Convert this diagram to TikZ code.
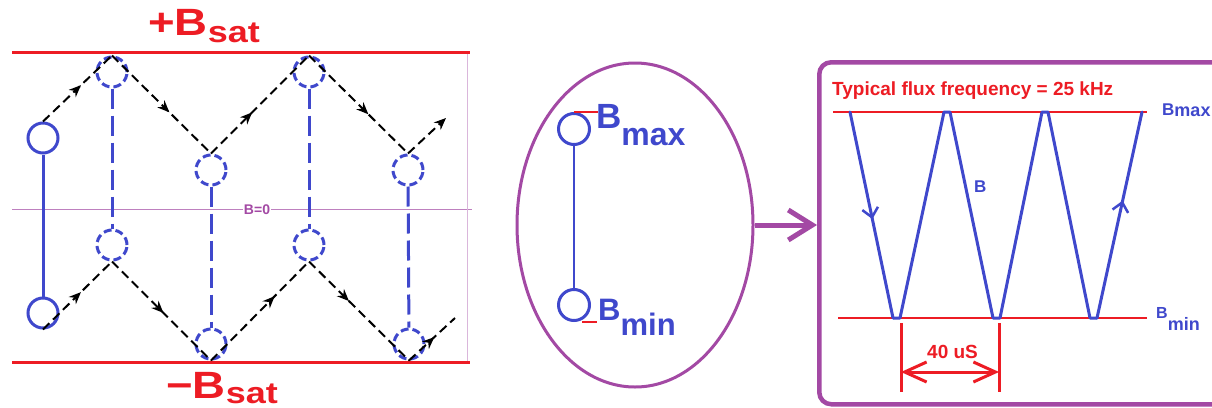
\documentclass[tikz,border=0pt]{standalone}
\usepackage{fontspec}
\setmainfont{Liberation Sans}
\usetikzlibrary{positioning,arrows.meta,shapes.geometric,decorations.markings}
\definecolor{satred}{RGB}{237,28,36}
\definecolor{ringblue}{RGB}{63,72,204}
\definecolor{plum}{RGB}{163,73,164}

\begin{document}
\begin{tikzpicture}[
    x=1pt, y=-1pt,
    >={Stealth[length=12pt,width=10pt]},
    every node/.style={inner sep=0pt},
    satline/.style={satred, line width=3pt},
    refline/.style={satred, line width=1.5pt},
    ring/.style={circle, draw=ringblue, line width=3pt, minimum size=30pt, inner sep=0pt},
    ghostring/.style={ring, dash pattern=on 8pt off 4pt},
    stem/.style={ringblue, line width=3pt},
    ghoststem/.style={stem, dash pattern=on 20pt off 7pt},
    flowline/.style={black, line width=2pt, dash pattern=on 9pt off 5pt},
    midarrow/.style={postaction={decorate}, decoration={markings,
        mark=at position #1 with {\arrow{Stealth[length=12pt,width=10pt]}}}},
    wave/.style={ringblue, line width=3pt, line join=round, line cap=round},
    midbarb/.style={postaction={decorate}, decoration={markings,
        mark=at position #1 with {\arrow{Straight Barb[length=9pt,width=16pt,line width=2.5pt]}}}},
    dimline/.style={satred, line width=3pt},
    panel/.style={draw=plum, line width=4.5pt, rounded corners=12pt},
]
\useasboundingbox (0,0) rectangle (1212,407);
\clip (0,0) rectangle (1212,407);
\fill[white] (0,0) rectangle (1212,407);

% ---- Left: saturation band ----
\draw[satline] (12,52) -- (470,52);
\draw[satline] (12,362) -- (470,362);
\draw[plum!70, line width=1pt] (12,209) -- (472,209);
\draw[plum!40, line width=1pt] (467,54) -- (467,361);
\node[plum, fill=white, inner sep=1pt, font=\bfseries\fontsize{14}{14}\selectfont] (zero) at (257,210) {B=0};

\node[satred, anchor=base west] (bsatp) at (148,35)
    {\scalebox{1.2}[1]{\bfseries\fontsize{38}{38}\selectfont +B\raisebox{-7pt}{\fontsize{30}{30}\selectfont sat}}};
\node[satred, anchor=base west] (bsatm) at (166,398)
    {\scalebox{1.2}[1]{\bfseries\fontsize{38}{38}\selectfont −B\raisebox{-5pt}{\fontsize{30}{30}\selectfont sat}}};

% rings, one column after another
\node[ring] (c1t) at (43,138) {};
\node[ring] (c1b) at (43,313) {};
\node[ghostring] (c2t) at (112,72) {};
\node[ghostring] (c2b) at (112,245) {};
\node[ghostring] (c3t) at (211,170) {};
\node[ghostring] (c3b) at (211,344) {};
\node[ghostring] (c4t) at (309,72) {};
\node[ghostring] (c4b) at (309,245) {};
\node[ghostring] (c5t) at (408,170) {};
\node[ghostring] (c5b) at (409,344) {};

\draw[stem] (c1t) -- (c1b);
\draw[ghoststem] (c2t) -- (c2b);
\draw[ghoststem] (c3t) -- (c3b);
\draw[ghoststem] (c4t) -- (c4b);
\draw[ghoststem] (c5t) -- (c5b);

% upper path
\coordinate (topend) at (446,118);
\draw[flowline, midarrow=0.55] (c1t.north) -- (c2t.north);
\draw[flowline, midarrow=0.58] (c2t.north) -- (c3t.north);
\draw[flowline, midarrow=0.42] (c3t.north) -- (c4t.north);
\draw[flowline, midarrow=0.6] (c4t.north) -- (c5t.north);
\draw[flowline, ->] (c5t.north) -- (topend);

% lower path
\coordinate (botend) at (455,318);
\draw[flowline, midarrow=0.55] (c1b.south) -- (c2b.south);
\draw[flowline, midarrow=0.52] (c2b.south) -- (c3b.south);
\draw[flowline, midarrow=0.65] (c3b.south) -- (c4b.south);
\draw[flowline, midarrow=0.4] (c4b.south) -- (c5b.south);
\draw[flowline, midarrow=0.55] (c5b.south) -- (botend);

% ---- Middle: one loop ----
\node[ellipse, draw=plum, line width=3pt, minimum width=236pt, minimum height=324pt] (oval) at (635,225) {};
\node[ring, minimum size=31pt] (mtop) at (574,129) {};
\node[ring, minimum size=31pt] (mbot) at (574,305) {};
\draw[stem, line width=2.5pt] (mtop) -- (mbot);
\draw[refline] (mtop.north) -- ++(24,0);
\draw[refline] ([xshift=8pt]mbot.south) -- ++(15,0);
\node[ringblue, anchor=base west, font=\bfseries\fontsize{35}{35}\selectfont] (bmax) at (596,128)
    {B\raisebox{-17pt}{\fontsize{32}{32}\selectfont max}};
\node[ringblue, anchor=base west, font=\bfseries\fontsize{31}{31}\selectfont] (bmin) at (598,320)
    {B\raisebox{-15pt}{\fontsize{31}{31}\selectfont min}};

% ---- Right: flux against time ----
\node[panel, anchor=north west, minimum width=440pt, minimum height=342pt] (panel) at (817,60) {};
\draw[plum, line width=5pt, -{Straight Barb[length=24pt,width=30pt]}] (oval.east) -- (oval.east -| panel.west);

\node[satred, anchor=base west, font=\bfseries\fontsize{19}{19}\selectfont] (title) at (832,95)
    {Typical flux frequency = 25 kHz};
\draw[refline] (833,112) -- (1147,112);
\draw[refline] (838,318) -- (1147,318);
\node[ringblue, anchor=base west, font=\bfseries\fontsize{17}{17}\selectfont] (wmax) at (1162,115)
    {B\raisebox{-1pt}{\fontsize{18}{18}\selectfont max}};
\node[ringblue, anchor=base west, font=\bfseries\fontsize{16}{16}\selectfont] (wmin) at (1156,318)
    {B\raisebox{-12pt}{\fontsize{18}{18}\selectfont min}};

\coordinate (w0) at (850,112);
\coordinate (w1) at (893,318);
\coordinate (w2) at (900,318);
\coordinate (w3) at (944,112);
\coordinate (w4) at (950,112);
\coordinate (w5) at (993,318);
\coordinate (w6) at (1000,318);
\coordinate (w7) at (1042,112);
\coordinate (w8) at (1048,112);
\coordinate (w9) at (1090,318);
\coordinate (w10) at (1097,318);
\coordinate (w11) at (1142,112);
\draw[wave, midbarb=0.52] (w0) -- (w1);
\draw[wave] (w1) -- (w2) -- (w3) -- (w4) -- (w5) -- (w6) -- (w7) -- (w8) -- (w9) -- (w10);
\draw[wave, midbarb=0.57] (w10) -- (w11);
\node[ringblue, anchor=base west, font=\bfseries\fontsize{17}{17}\selectfont] (blabel) at (974,192) {B};

% period marker
\coordinate (dl) at (901,372);
\coordinate (dr) at (999,372);
\draw[dimline] (901,323) -- (901,392);
\draw[dimline] (999,323) -- (999,392);
\draw[dimline, {Straight Barb[length=22pt,width=20pt]}-{Straight Barb[length=22pt,width=20pt]}] (dl) -- (dr);
\node[satred, anchor=base west, font=\bfseries\fontsize{19}{19}\selectfont] (period) at (927,358) {40 uS};

\end{tikzpicture}
\end{document}
